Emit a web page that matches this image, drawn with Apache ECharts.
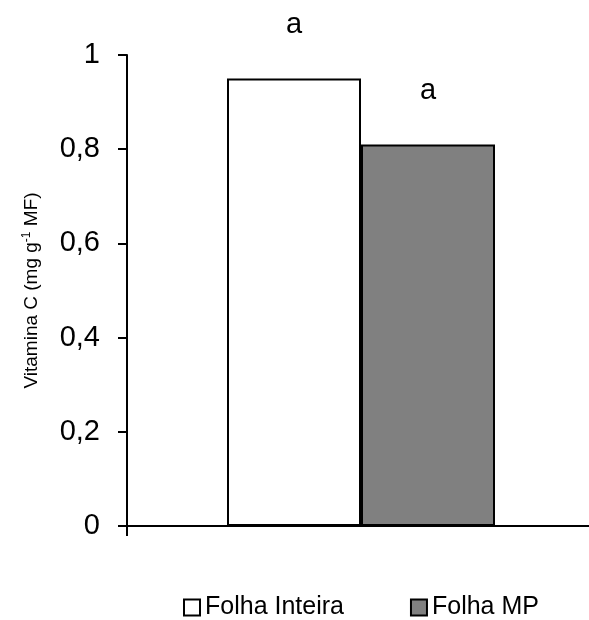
<!DOCTYPE html>
<html><head><meta charset="utf-8">
<script src="https://cdn.jsdelivr.net/npm/echarts@6/dist/echarts.min.js"></script>
<style>html,body{margin:0;padding:0;background:#fff}#c{width:589px;height:620px}</style>
</head><body><div id="c"></div>
<script>
const categories = [''];
const seriesNames = ['Folha Inteira', 'Folha MP'];
const valuesInteira = [0.95];
const valuesMP = [0.81];
const lettersInteira = ['a'];
const lettersMP = ['a'];
const yTicks = [0, 0.2, 0.4, 0.6, 0.8, 1];

const FONT = 'Liberation Sans, Arial, sans-serif';
const chart = echarts.init(document.getElementById('c'), null, {renderer: 'canvas'});

function letterLabel(letters) {
  return {
    show: true, position: 'top', distance: 39,
    formatter: p => letters[p.dataIndex],
    color: '#000', fontFamily: FONT, fontSize: 29
  };
}

chart.setOption({
  animation: false,
  backgroundColor: '#fff',
  grid: {left: 127, top: 55, width: 468, bottom: 94, containLabel: false, outerBoundsMode: 'none'},
  legend: {
    top: 595, left: 183, padding: 0,
    itemWidth: 16, itemHeight: 16, itemGap: 66,
    icon: 'rect',
    textStyle: {fontFamily: FONT, fontSize: 25, color: '#000'},
    data: seriesNames
  },
  xAxis: {
    type: 'category', data: categories,
    axisLine: {lineStyle: {color: '#000', width: 2}},
    axisTick: {show: true, length: 10, lineStyle: {color: '#000', width: 2}},
    axisLabel: {show: false},
    splitLine: {show: false}
  },
  yAxis: {
    type: 'value', min: 0, max: 1, interval: 0.2,
    axisLine: {show: true, lineStyle: {color: '#000', width: 2}},
    axisTick: {show: true, length: 9, lineStyle: {color: '#000', width: 2}},
    axisLabel: {
      margin: 27, fontFamily: FONT, fontSize: 29, color: '#000',
      formatter: v => yTicks.includes(Math.round(v*10)/10) ? String(Math.round(v*10)/10).replace('.', ',') : ''
    },
    splitLine: {show: false},
    name: '{n|Vitamina C (mg g}{s|-1}{n| MF)}',
    nameLocation: 'middle', nameGap: 84, nameRotate: 90,
    nameTextStyle: {
      rich: {
        n: {fontFamily: FONT, fontSize: 19, color: '#000'},
        s: {fontFamily: FONT, fontSize: 12, color: '#000', verticalAlign: 'top', padding: [0,0,10,0]}
      }
    }
  },
  series: [
    {
      name: seriesNames[0], type: 'bar', data: valuesInteira,
      barWidth: 134, barGap: '0%',
      itemStyle: {color: '#ffffff', borderColor: '#000', borderWidth: 2},
      label: letterLabel(lettersInteira)
    },
    {
      name: seriesNames[1], type: 'bar', data: valuesMP,
      barWidth: 134, barGap: '0%',
      itemStyle: {color: '#808080', borderColor: '#000', borderWidth: 2},
      label: letterLabel(lettersMP)
    }
  ]
});
</script></body></html>
